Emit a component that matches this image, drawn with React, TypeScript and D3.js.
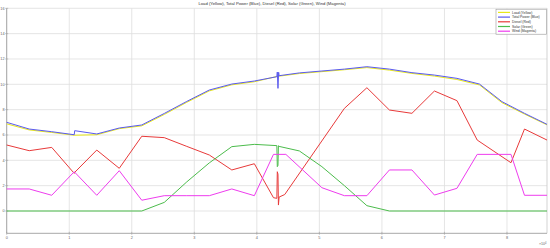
import React from "react";
import * as d3 from "d3";

// time is in hours, drawn on a seconds axis (x 10^4)
const loadHours = [0, 1, 2, 3, 4, 5, 6, 7, 8, 9, 10, 11, 12, 13, 14, 15, 16, 17, 18, 19, 20, 21, 22, 23, 24];
const loadValues = [6.88, 6.4, 6.2, 5.98, 6.02, 6.5, 6.72, 7.62, 8.58, 9.48, 9.96, 10.2, 10.62, 10.85, 11.0, 11.15, 11.32, 11.12, 10.86, 10.65, 10.38, 9.95, 8.55, 7.65, 6.8];

const totalHours = [0, 1, 2, 3, 3.02, 4, 5, 6, 7, 8, 9, 10, 11, 12, 12.02, 12.05, 12.08, 12.1, 13, 14, 15, 16, 17, 18, 19, 20, 21, 22, 23, 24];
const totalValues = [7.0, 6.47, 6.26, 6.02, 6.34, 6.08, 6.55, 6.79, 7.7, 8.65, 9.55, 10.02, 10.26, 10.6, 10.97, 9.68, 10.95, 10.68, 10.9, 11.05, 11.2, 11.39, 11.2, 10.92, 10.73, 10.47, 10.02, 8.63, 7.71, 6.84];

const dieselHours = [0, 1, 2, 3, 3.02, 4, 5, 6, 7, 8, 9, 10, 11, 11.85, 12, 12.02, 12.05, 12.07, 12.1, 12.35, 15, 16, 17, 18, 19, 20, 20.9, 22.4, 23, 24];
const dieselValues = [5.21, 4.76, 5.02, 2.97, 3.05, 4.81, 3.37, 5.9, 5.79, 5.1, 4.42, 3.24, 3.73, 1.05, 1.0, 3.1, 2.9, 0.47, 1.1, 1.3, 8.1, 9.73, 7.97, 7.71, 9.47, 8.71, 5.6, 3.81, 6.47, 5.6];

const solarHours = [0, 6, 7, 8, 9, 10, 11, 12, 12.02, 12.05, 12.07, 12.1, 13, 14, 15, 16, 17, 24];
const solarValues = [0, 0, 0.68, 2.3, 3.8, 5.08, 5.26, 5.16, 3.5, 3.6, 5.15, 5.1, 4.74, 3.5, 2.0, 0.42, 0, 0];

const windHours = [0, 1, 2, 3, 4, 5, 6, 7, 8, 9, 10, 11, 11.85, 12.4, 14, 15, 16, 17, 18, 19, 20, 20.9, 22.4, 23, 24];
const windValues = [1.74, 1.74, 1.24, 3.1, 1.24, 3.18, 0.85, 1.21, 1.21, 1.21, 1.74, 1.21, 4.47, 4.47, 1.84, 1.21, 1.21, 3.24, 3.24, 1.26, 1.79, 4.47, 4.47, 1.24, 1.24];

const seriesNames = ["Load (Yellow)", "Total Power (Blue)", "Diesel (Red)", "Solar (Green)", "Wind (Magenta)"];
const seriesColors = ["#e8e81a", "#5a5aee", "#e83a3a", "#4cbc4c", "#ee3cee"];

const xTicks = [0, 1, 2, 3, 4, 5, 6, 7, 8];
const yTicks = [0, 2, 4, 6, 8, 10, 12, 14, 16];

const title = "Load (Yellow), Total Power (Blue), Diesel (Red), Solar (Green), Wind (Magenta)";

export default function App() {
  const width = 550;
  const height = 248;
  const left = 6.7;
  const right = 547;
  const top = 8.3;
  const bottom = 233.3;

  const x = d3.scaleLinear().domain([0, 86400]).range([left, right]);
  const y = d3.scaleLinear().domain([-1.76, 16]).range([bottom, top]);

  const series = [
    [loadHours, loadValues],
    [totalHours, totalValues],
    [dieselHours, dieselValues],
    [solarHours, solarValues],
    [windHours, windValues],
  ];

  const line = d3
    .line<[number, number]>()
    .x((d) => x(d[0] * 3600))
    .y((d) => y(d[1]));

  const font = "'Liberation Sans', Arial, sans-serif";

  return (
    <svg
      width={width}
      height={height}
      style={{ position: "absolute", left: 0, top: 0, background: "#fff" }}
      fontFamily={font}
    >
      {/* grid */}
      {xTicks.map((t) => (
        <line key={"gx" + t} x1={x(t * 10000)} x2={x(t * 10000)} y1={top} y2={bottom} stroke="#dedede" strokeWidth={0.8} />
      ))}
      {yTicks.map((t) => (
        <line key={"gy" + t} x1={left} x2={right} y1={y(t)} y2={y(t)} stroke="#dedede" strokeWidth={0.8} />
      ))}
      <line x1={right} x2={right} y1={top} y2={bottom} stroke="#c8c8c8" strokeWidth={0.8} />

      {/* axes */}
      <line x1={left} x2={left} y1={top} y2={bottom} stroke="#a8a8a8" strokeWidth={1} />
      <line x1={left} x2={right} y1={bottom} y2={bottom} stroke="#a8a8a8" strokeWidth={1} />
      {yTicks.map((t) => (
        <g key={"ty" + t}>
          <line x1={left - 1.5} x2={left + 1.5} y1={y(t)} y2={y(t)} stroke="#a0a0a0" strokeWidth={0.6} />
          <text x={left - 2.2} y={y(t) + 1.4} fontSize={3.8} textAnchor="end" fill="#666">
            {t}
          </text>
        </g>
      ))}
      {xTicks.map((t) => (
        <g key={"tx" + t}>
          <line x1={x(t * 10000)} x2={x(t * 10000)} y1={bottom - 1.5} y2={bottom + 1.5} stroke="#a0a0a0" strokeWidth={0.6} />
          <text x={x(t * 10000)} y={bottom + 5.6} fontSize={3.8} textAnchor="middle" fill="#666">
            {t}
          </text>
        </g>
      ))}
      <text x={539} y={245} fontSize={3.6} fill="#666">
        ×10<tspan dy={-1.4} fontSize={2.6}>4</tspan>
      </text>

      {/* series */}
      {series.map(([hours, values], i) => (
        <path
          key={seriesNames[i]}
          d={line(hours.map((h, j) => [h, values[j]] as [number, number])) || ""}
          fill="none"
          stroke={seriesColors[i]}
          strokeWidth={1}
          strokeLinejoin="round"
        />
      ))}

      {/* title */}
      <text x={272} y={5.2} fontSize={4.2} textAnchor="middle" fill="#333">
        {title}
      </text>

      {/* legend */}
      <g>
        <rect x={496} y={9.2} width={50.5} height={25} fill="#fff" stroke="#999" strokeWidth={0.6} />
        {seriesNames.map((name, i) => (
          <g key={"lg" + name}>
            <line x1={498} x2={510} y1={12.4 + i * 4.7} y2={12.4 + i * 4.7} stroke={seriesColors[i]} strokeWidth={1.2} />
            <text x={512} y={13.6 + i * 4.7} fontSize={3.4} fill="#333">
              {name}
            </text>
          </g>
        ))}
      </g>
    </svg>
  );
}
